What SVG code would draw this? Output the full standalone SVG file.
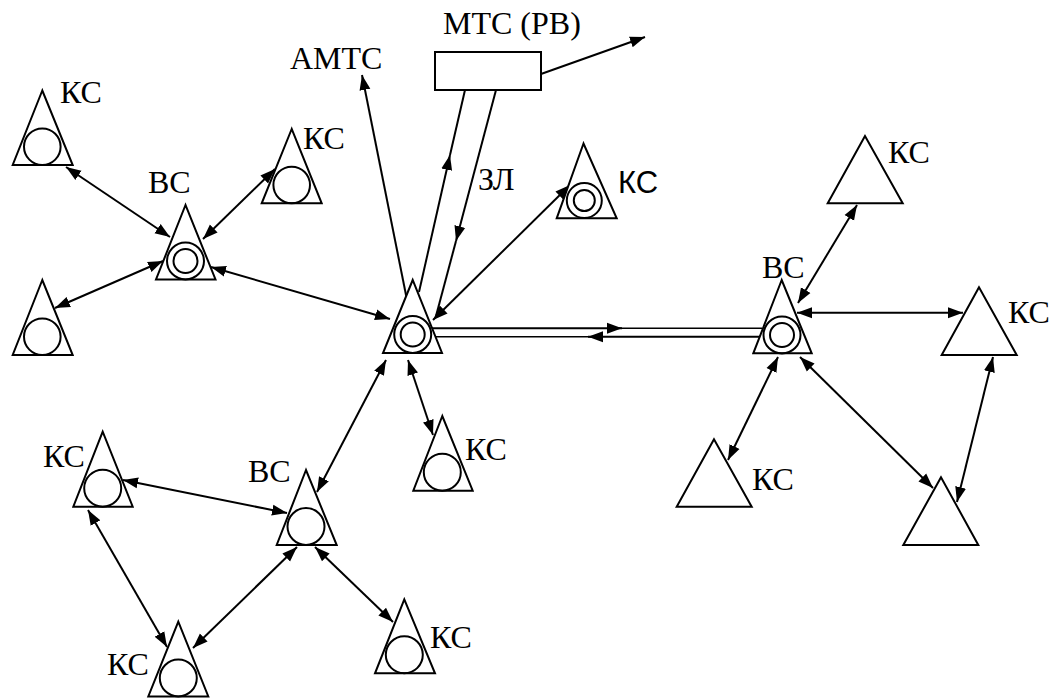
<svg xmlns="http://www.w3.org/2000/svg" width="1059" height="698" viewBox="0 0 1059 698">
<style>
.n{fill:#fff;stroke:#000;stroke-width:2}
.c{fill:none;stroke:#000;stroke-width:2}
.t{font-family:"Liberation Serif","Times New Roman",serif;font-size:32px;fill:#000}
.ts{font-family:"Liberation Sans",Arial,sans-serif;font-size:31px;fill:#000}
.e line{stroke:#000;stroke-width:2;fill:none}
.d{marker-start:url(#a);marker-end:url(#a)}
.s{marker-end:url(#a)}
.thin{stroke-width:1.5!important}
</style>
<defs>
<marker id="a" markerUnits="userSpaceOnUse" markerWidth="16" markerHeight="12" refX="15" refY="5.5" orient="auto-start-reverse" viewBox="0 0 16 11">
<path d="M0,0 L15,5.5 L0,11 z" fill="#000"/>
</marker>
</defs>
<rect width="1059" height="698" fill="#fff"/>

<g id="connectors" class="e">
<line class="d" x1="66" y1="167" x2="170" y2="237"/>
<line class="d" x1="275" y1="169" x2="203" y2="239"/>
<line class="d" x1="55" y1="308" x2="163" y2="261"/>
<line class="d" x1="390" y1="319" x2="211" y2="267"/>
<line class="s" x1="407" y1="300" x2="362" y2="75"/>
<line class="s" x1="541" y1="74" x2="645" y2="37"/>
<line class="s" x1="419" y1="292" x2="450" y2="155"/>
<line x1="450" y1="155" x2="465" y2="90"/>
<line class="s" x1="496" y1="90" x2="456" y2="241"/>
<line x1="456" y1="241" x2="436" y2="316"/>
<line class="d" x1="433" y1="320" x2="570" y2="185"/>
<line class="s" x1="432" y1="328.3" x2="622" y2="328.3"/>
<line class="thin" x1="610" y1="328.3" x2="762" y2="328.3"/>
<line class="s" x1="762" y1="336.7" x2="588" y2="336.7"/>
<line class="thin" x1="600" y1="336.7" x2="432" y2="336.7"/>
<line class="d" x1="798" y1="303" x2="857" y2="205"/>
<line class="d" x1="797" y1="312.7" x2="963" y2="312.7"/>
<line class="d" x1="778" y1="357" x2="728" y2="460"/>
<line class="d" x1="800" y1="357" x2="933" y2="488"/>
<line class="d" x1="993" y1="357" x2="957" y2="502"/>
<line class="d" x1="386" y1="360" x2="317" y2="492"/>
<line class="d" x1="408" y1="360" x2="433" y2="435"/>
<line class="d" x1="123" y1="480" x2="287" y2="513"/>
<line class="d" x1="88" y1="510" x2="167" y2="647"/>
<line class="d" x1="297" y1="547" x2="193" y2="648"/>
<line class="d" x1="315" y1="547" x2="393" y2="622"/>
</g>

<g id="mts">
<rect class="n" x="435" y="52" width="106" height="38"/>
<text class="t" x="443" y="34">МТС (РВ)</text>
</g>
<g id="amts"><text class="t" x="290" y="69">АМТС</text></g>
<g id="zl"><text class="t" x="478" y="190">ЗЛ</text></g>

<g id="hub">
<polygon class="n" points="412.7,280 383,353 442,353"/>
<circle class="c" cx="412.7" cy="334.5" r="18.5"/>
<circle class="c" cx="412.7" cy="334.5" r="12"/>
</g>

<g id="vc-left">
<polygon class="n" points="185.5,205 156,279.5 215.5,279.5"/>
<circle class="c" cx="185.5" cy="261" r="18.5"/>
<circle class="c" cx="185.5" cy="261" r="12"/>
<text class="t" x="148" y="193">ВС</text>
</g>
<g id="ks-tl">
<polygon class="n" points="42.3,90.5 12.7,165 72.7,165"/>
<circle class="c" cx="42.3" cy="146.7" r="18.3"/>
<text class="t" x="60" y="103">КС</text>
</g>
<g id="ks-tr">
<polygon class="n" points="291.7,129 261.7,203.3 321.7,203.3"/>
<circle class="c" cx="291.7" cy="185" r="18.3"/>
<text class="t" x="303" y="149">КС</text>
</g>
<g id="ks-bl">
<polygon class="n" points="42.3,280 12.7,355 72.7,355"/>
<circle class="c" cx="42.3" cy="336.7" r="18.3"/>
</g>

<g id="ks-top">
<polygon class="n" points="583.5,143.5 556.7,218.3 616.7,218.3"/>
<circle class="c" cx="584.3" cy="200.5" r="17.5"/>
<circle class="c" cx="584.3" cy="200.5" r="10.5"/>
<text class="ts" x="618" y="193">КС</text>
</g>

<g id="vc-right">
<polygon class="n" points="781.7,280 753.3,353.3 811.7,353.3"/>
<circle class="c" cx="782" cy="335" r="18.5"/>
<circle class="c" cx="782" cy="335" r="12"/>
<text class="t" x="762" y="278">ВС</text>
</g>
<g id="ks-r1">
<polygon class="n" points="865,136 827.7,203.3 902.7,203.3"/>
<text class="t" x="888" y="163">КС</text>
</g>
<g id="ks-r2">
<polygon class="n" points="979,287.3 941.7,355 1016.7,355"/>
<text class="t" x="1008" y="323">КС</text>
</g>
<g id="ks-r3">
<polygon class="n" points="714,439.3 676.7,506.7 751.7,506.7"/>
<text class="t" x="752" y="490">КС</text>
</g>
<g id="ks-r4">
<polygon class="n" points="941,477.3 903.3,545 978.3,545"/>
</g>

<g id="vc-bottom">
<polygon class="n" points="306,470 276.7,545 336.7,545"/>
<circle class="c" cx="306" cy="526.5" r="18.5"/>
<text class="t" x="248" y="482">ВС</text>
</g>
<g id="ks-b1">
<polygon class="n" points="102.7,431.7 73.3,506.7 132.7,506.7"/>
<circle class="c" cx="102.7" cy="488.2" r="18.5"/>
<text class="t" x="43" y="467">КС</text>
</g>
<g id="ks-b2">
<polygon class="n" points="178.3,621.7 148.3,696.5 208.3,696.5"/>
<circle class="c" cx="178.3" cy="678" r="18.5"/>
<text class="t" x="107" y="675">КС</text>
</g>
<g id="ks-b3">
<polygon class="n" points="404.3,599.3 375,673.3 435,673.3"/>
<circle class="c" cx="404.3" cy="654.8" r="18.5"/>
<text class="t" x="430" y="648">КС</text>
</g>
<g id="ks-b4">
<polygon class="n" points="442.3,416 413.3,490.7 472.7,490.7"/>
<circle class="c" cx="442.3" cy="472.2" r="18.5"/>
<text class="t" x="465" y="460">КС</text>
</g>
</svg>
